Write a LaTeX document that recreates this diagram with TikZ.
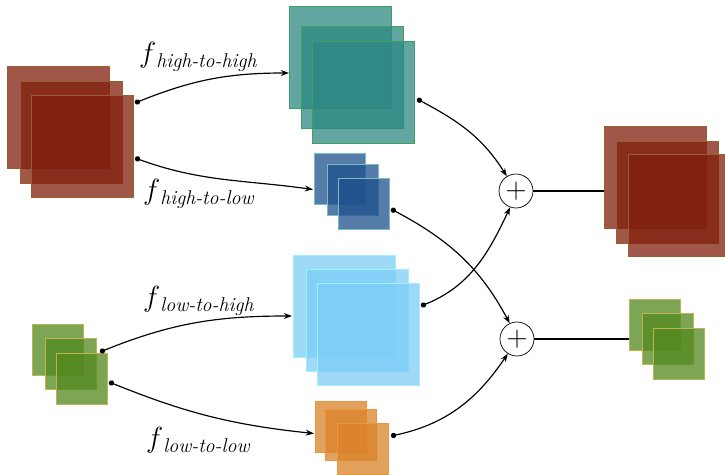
\documentclass[tikz,border=0pt]{standalone}
\usetikzlibrary{arrows.meta, calc, positioning}

\definecolor{HighInFill}{RGB}{128,30,12}
\definecolor{HighInLine}{RGB}{150,95,45}
\definecolor{HighHighFill}{RGB}{45,135,130}
\definecolor{HighHighLine}{RGB}{60,160,95}
\definecolor{HighLowFill}{RGB}{30,80,140}
\definecolor{HighLowLine}{RGB}{120,190,190}
\definecolor{LowHighFill}{RGB}{125,205,245}
\definecolor{LowHighLine}{RGB}{160,240,255}
\definecolor{LowLowFill}{RGB}{218,130,40}
\definecolor{LowLowLine}{RGB}{235,150,60}
\definecolor{LowInFill}{RGB}{82,135,30}
\definecolor{LowInLine}{RGB}{190,180,80}

\newcommand{\fsub}[1]{$f$\raisebox{-0.2em}{\fontsize{17}{17}\selectfont\itshape #1}}

\tikzset{
    fmap/.style 2 args={
        fill=#1, draw=#2, fill opacity=0.75, line width=0.6pt,
        inner sep=0pt, outer sep=0pt, anchor=north west
    },
    big/.style={minimum size=3.06cm},
    small/.style={minimum size=1.53cm},
    conv/.style={
        line width=1pt, {Circle[length=4.5pt]}-{Stealth[length=7pt, width=5pt]}
    },
    sumop/.style={
        circle, draw, line width=0.6pt, minimum size=1.02cm, inner sep=0pt,
        font=\fontsize{24}{24}\selectfont
    },
    flabel/.style={font=\fontsize{23}{27}\selectfont, inner sep=0pt, anchor=west}
}

\begin{document}
\begin{tikzpicture}[x=0.03cm, y=0.03cm]

\useasboundingbox (0,0) rectangle (725,474);
\clip (0,0) rectangle (725,474);

% Mapas de entrada (alta y baja frecuencia).
\node[fmap={HighInFill}{HighInLine}, big] (hin1) at (7,408) {};
\node[fmap={HighInFill}{HighInLine}, big] (hin2) at (20,393) {};
\node[fmap={HighInFill}{HighInLine}, big] (hin3) at (31,379) {};

\node[fmap={LowInFill}{LowInLine}, small] (lin1) at (32,150) {};
\node[fmap={LowInFill}{LowInLine}, small] (lin2) at (45,136) {};
\node[fmap={LowInFill}{LowInLine}, small] (lin3) at (56,121) {};

% Mapas intermedios.
\node[fmap={HighHighFill}{HighHighLine}, big] (hh1) at (289,468) {};
\node[fmap={HighHighFill}{HighHighLine}, big] (hh2) at (301,448) {};
\node[fmap={HighHighFill}{HighHighLine}, big] (hh3) at (312,433) {};

\node[fmap={HighLowFill}{HighLowLine}, small] (hl1) at (314,321) {};
\node[fmap={HighLowFill}{HighLowLine}, small] (hl2) at (327,310) {};
\node[fmap={HighLowFill}{HighLowLine}, small] (hl3) at (338,296) {};

\node[fmap={LowHighFill}{LowHighLine}, big] (lh1) at (293,219) {};
\node[fmap={LowHighFill}{LowHighLine}, big] (lh2) at (306,205) {};
\node[fmap={LowHighFill}{LowHighLine}, big] (lh3) at (317,191) {};

\node[fmap={LowLowFill}{LowLowLine}, small] (ll1) at (315,73) {};
\node[fmap={LowLowFill}{LowLowLine}, small] (ll2) at (325,65) {};
\node[fmap={LowLowFill}{LowLowLine}, small] (ll3) at (337,51) {};

% Mapas de salida.
\node[fmap={HighInFill}{HighInLine}, big] (hout1) at (604,348) {};
\node[fmap={HighInFill}{HighInLine}, big] (hout2) at (616,333) {};
\node[fmap={HighInFill}{HighInLine}, big] (hout3) at (628,320) {};

\node[fmap={LowInFill}{LowInLine}, small] (lout1) at (629,175) {};
\node[fmap={LowInFill}{LowInLine}, small] (lout2) at (642,161) {};
\node[fmap={LowInFill}{LowInLine}, small] (lout3) at (653,146) {};

% Sumas.
\node[sumop] (sumH) at (516,283) {$+$};
\node[sumop] (sumL) at (517,135) {$+$};

% Puntos de salida y llegada de las flechas.
\coordinate (hin-a) at ($(hin3.north east)+(2,-8)$);
\coordinate (hin-b) at ($(hin3.north east)+(2,-63)$);
\coordinate (lin-a) at ($(lin3.north east)+(-7,1)$);
\coordinate (lin-b) at ($(lin3.north east)+(2,-29)$);
\coordinate (hh-in) at ($(hh1.west)+(0,-16)$);
\coordinate (hl-in) at ($(hl1.west)+(-1,-11)$);
\coordinate (lh-in) at ($(lh1.west)+(-1,-10)$);
\coordinate (ll-in) at ($(ll1.west)+(-1,-7)$);
\coordinate (hh-out) at ($(hh3.north east)+(3,-58)$);
\coordinate (hl-out) at ($(hl3.north east)+(2,-31)$);
\coordinate (lh-out) at ($(lh3.north east)+(2,-23)$);
\coordinate (ll-out) at ($(ll3.north east)+(3,-13)$);

% Convoluciones.
\draw[conv] (hin-a) to[out=22, in=180] (hh-in);
\draw[conv] (hin-b) to[out=-20, in=172] (hl-in);
\draw[conv] (lin-a) to[out=22, in=180] (lh-in);
\draw[conv] (lin-b) to[out=-22, in=174] (ll-in);

\draw[conv] (hh-out) to[out=-28, in=122] (sumH.122);
\draw[conv] (lh-out) to[out=22, in=245] (sumH.250);
\draw[conv] (hl-out) to[out=-28, in=118] (sumL.115);
\draw[conv] (ll-out) to[out=12, in=236] (sumL.238);

\draw[line width=1pt] (sumH.east) -- (sumH -| hout1.west);
\draw[line width=1pt] (sumL.east) -- (sumL -| lout1.west);

% Etiquetas.
\node[flabel] (f-hh) at (139,417) {\fsub{high-to-high}};
\node[flabel] (f-hl) at (143,280) {\fsub{high-to-low}};
\node[flabel] (f-lh) at (143,173) {\fsub{low-to-high}};
\node[flabel] (f-ll) at (146,34) {\fsub{low-to-low}};

\end{tikzpicture}
\end{document}
